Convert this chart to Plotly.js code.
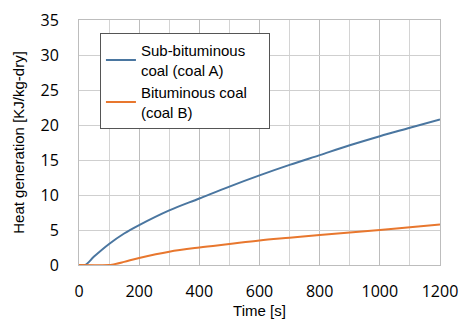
<!DOCTYPE html>
<html><head><meta charset="utf-8">
<script src="https://cdn.plot.ly/plotly-3.0.1.min.js"></script>
<style>body{margin:0;background:#fff}#c{width:462px;height:320px}</style>
</head><body><div id="c"></div>
<script>
const timeA = [0, 20, 50, 100, 150, 200, 300, 400, 500, 600, 700, 800, 900, 1000, 1100, 1200];
const coalA = [0, 0, 1.2, 3.0, 4.5, 5.7, 7.8, 9.5, 11.2, 12.8, 14.3, 15.7, 17.1, 18.4, 19.6, 20.8];
const timeB = [0, 100, 110, 150, 200, 300, 400, 500, 600, 700, 800, 900, 1000, 1100, 1200];
const coalB = [0, 0, 0.05, 0.45, 1.0, 1.9, 2.5, 3.0, 3.5, 3.9, 4.3, 4.65, 5.0, 5.4, 5.8];
const nameA = 'Sub-bituminous<br>coal (coal A)';
const nameB = 'Bituminous coal\u00a0\u00a0\u00a0\u00a0<br>(coal B)';
const tickFont = {family: 'Open Sans, Noto Sans, sans-serif', size: 16, color: '#000'};
const textFont = {family: 'Liberation Sans, Arial, sans-serif', size: 15, color: '#000'};
Plotly.newPlot('c', [
  {x: timeA, y: coalA, name: nameA, mode: 'lines', line: {color: '#4a76a0', width: 2, shape: 'spline'}},
  {x: timeB, y: coalB, name: nameB, mode: 'lines', line: {color: '#e8772e', width: 2, shape: 'spline'}}
], {
  width: 462, height: 320,
  margin: {l: 79, r: 22, t: 20, b: 55},
  paper_bgcolor: '#fff', plot_bgcolor: '#fff',
  showlegend: true,
  legend: {x: 0.058, y: 0.947, xanchor: 'left', yanchor: 'top', bordercolor: '#555', borderwidth: 1,
    bgcolor: '#fff', font: textFont, tracegroupgap: 10, itemwidth: 30},
  xaxis: {range: [0, 1200], dtick: 200, tick0: 0, showgrid: true, gridcolor: '#bdbdbd', gridwidth: 1,
    minor: {dtick: 100, showgrid: true, gridcolor: '#d4d4d4'},
    zeroline: false, showline: true, linecolor: '#bdbdbd', mirror: true, ticks: '',
    tickfont: tickFont, ticklabelstandoff: 12,
    title: {text: 'Time [s]', font: textFont, standoff: 0}},
  yaxis: {range: [0, 35], dtick: 5, showgrid: true, gridcolor: '#cfcfcf', gridwidth: 1,
    zeroline: false, showline: true, linecolor: '#bdbdbd', mirror: true, ticks: '',
    tickfont: tickFont, ticklabelstandoff: 16,
    title: {text: 'Heat generation [KJ/kg-dry]', font: textFont, standoff: 12}}
}, {displayModeBar: false, staticPlot: true});
</script></body></html>
